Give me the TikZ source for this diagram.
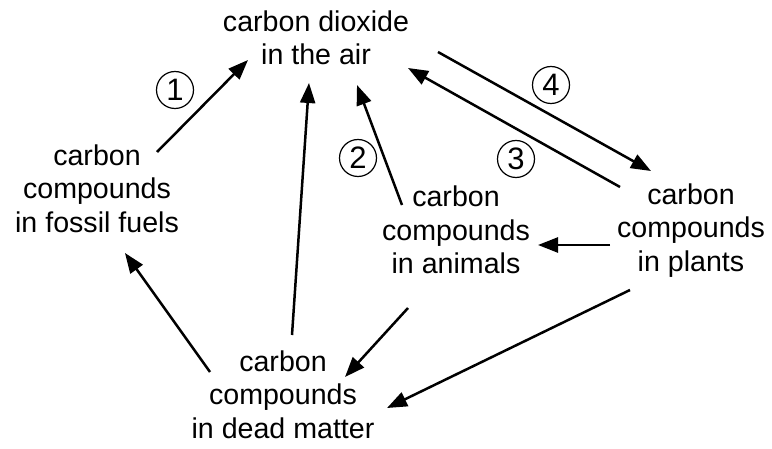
\documentclass[tikz,border=0pt]{standalone}
\usepackage{fontspec}
\setmainfont{Liberation Sans}
\usetikzlibrary{arrows.meta}
\begin{document}
\begin{tikzpicture}[x=1pt,y=1pt,
  txt/.style={align=center,font=\fontsize{28.6}{33.3}\selectfont,inner sep=0pt},
  num/.style={circle,draw,line width=1.2pt,minimum size=37pt,inner sep=0pt,font=\fontsize{31}{32}\selectfont},
  flow/.style={line width=2.5pt,-{Triangle[length=20pt,width=15pt]}}]
\useasboundingbox (0,0) rectangle (772,448);
\node[txt] (air) at (316,410) {carbon dioxide\\in the air};
\node[txt] (fossil) at (97,259.5) {carbon\\compounds\\in fossil fuels};
\node[txt] (animals) at (456,218) {carbon\\compounds\\in animals};
\node[txt] (plants) at (691,217.5) {carbon\\compounds\\in plants};
\node[txt] (dead) at (283,53.5) {carbon\\compounds\\in dead matter};
\node[num] (n1) at (175,358) {1};
\node[num] (n2) at (358,290) {2};
\node[num] (n3) at (516,289) {3};
\node[num] (n4) at (551,363) {4};
\draw[flow] ([shift={(60,36.5)}]fossil.center) -- ([shift={(-68,-22)}]air.center);
\draw[flow] ([shift={(-54,25)}]animals.center) -- ([shift={(41,-47)}]air.center);
\draw[flow] ([shift={(-71,43.5)}]plants.center) -- ([shift={(92,-30)}]air.center);
\draw[flow] ([shift={(122,-14)}]air.center) -- ([shift={(-40,59.5)}]plants.center);
\draw[flow] ([shift={(-81,-14.5)}]plants.center) -- ([shift={(82,-15)}]animals.center);
\draw[flow] ([shift={(-48,-78)}]animals.center) -- ([shift={(62,17.5)}]dead.center);
\draw[flow] ([shift={(-61,-59.5)}]plants.center) -- ([shift={(104,-13.5)}]dead.center);
\draw[flow] ([shift={(-73,22.5)}]dead.center) -- ([shift={(28,-64.5)}]fossil.center);
\draw[flow] ([shift={(9,59.5)}]dead.center) -- ([shift={(-7,-45)}]air.center);
\end{tikzpicture}
\end{document}
